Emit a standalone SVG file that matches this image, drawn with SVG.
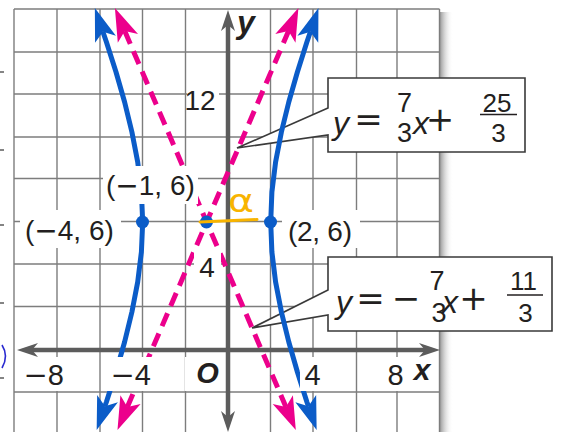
<svg xmlns="http://www.w3.org/2000/svg" width="563" height="432" viewBox="0 0 563 432">
<style>
.grid line{stroke:#7d7d7d;stroke-width:1.4}
.blue{stroke:#0b5cc8;stroke-width:5;fill:none;stroke-linejoin:round}
.pink{stroke:#ec008c;stroke-width:5;fill:none;stroke-dasharray:14 8}
.axis{stroke:#5c5c5c;stroke-width:4.5;fill:none}
.t{font-family:"Liberation Sans",Arial,sans-serif;fill:#231f20}
.mn{font-family:"DejaVu Sans",sans-serif}
.m{font-family:"DejaVu Sans",sans-serif;fill:#231f20;font-size:34px;text-anchor:middle}
.bg{fill:#fff}
.box{fill:#fff;stroke:#3a3a3a;stroke-width:1.6;stroke-linejoin:miter}
</style>
<defs>
<marker id="hb" viewBox="-35 -12 36 24" markerWidth="36" markerHeight="24" refX="-25" refY="0" orient="auto-start-reverse" markerUnits="userSpaceOnUse"><path d="M0,0 L-33,-11 L-25,0 L-33,11 Z" fill="#0b5cc8"/></marker>
<marker id="hp" viewBox="-35 -12 36 24" markerWidth="36" markerHeight="24" refX="-25" refY="0" orient="auto-start-reverse" markerUnits="userSpaceOnUse"><path d="M0,0 L-33,-11 L-25,0 L-33,11 Z" fill="#ec008c"/></marker>
<marker id="ha" viewBox="-23 -9 24 18" markerWidth="24" markerHeight="18" refX="-15" refY="0" orient="auto-start-reverse" markerUnits="userSpaceOnUse"><path d="M0,0 L-21,-7 L-15,0 L-21,7 Z" fill="#5c5c5c"/></marker>
<linearGradient id="sh" x1="0" y1="0" x2="1" y2="0"><stop offset="0" stop-color="#9a9a9a"/><stop offset="1" stop-color="#fff" stop-opacity="0"/></linearGradient>
</defs>
<rect width="563" height="432" fill="#fff"/>
<g id="edge-marks" stroke="#333" stroke-width="1.2">
<line x1="0" y1="72" x2="4" y2="72"/><line x1="0" y1="150" x2="4" y2="150"/><line x1="0" y1="225" x2="4" y2="225"/><line x1="0" y1="303" x2="4" y2="303"/><line x1="0" y1="378" x2="4" y2="378"/>
</g>
<path d="M2,345 Q9,356 2,368" stroke="#2a2ad0" stroke-width="1.6" fill="none"/>
<rect x="440" y="12" width="13" height="420" fill="url(#sh)"/>
<g id="grid" class="grid">
<line x1="14" y1="9" x2="14" y2="432"/><line x1="57" y1="9" x2="57" y2="432"/><line x1="100" y1="9" x2="100" y2="432"/><line x1="142.5" y1="9" x2="142.5" y2="432"/><line x1="185.5" y1="9" x2="185.5" y2="432"/><line x1="270.5" y1="9" x2="270.5" y2="432"/><line x1="313" y1="9" x2="313" y2="432"/><line x1="356.5" y1="9" x2="356.5" y2="432"/><line x1="397" y1="9" x2="397" y2="432"/><line x1="439.5" y1="9" x2="439.5" y2="432"/>
<line x1="14" y1="9" x2="439.5" y2="9"/><line x1="14" y1="52" x2="439.5" y2="52"/><line x1="14" y1="94" x2="439.5" y2="94"/><line x1="14" y1="137" x2="439.5" y2="137"/><line x1="14" y1="178.5" x2="439.5" y2="178.5"/><line x1="14" y1="221.5" x2="439.5" y2="221.5"/><line x1="14" y1="264" x2="439.5" y2="264"/><line x1="14" y1="306.5" x2="439.5" y2="306.5"/><line x1="14" y1="392" x2="439.5" y2="392"/>
</g>
<g id="callout1"><path class="box" d="M328,108 L237,148 L328,135 L328,152 L525,152 L525,78 L328,78 Z"/>
<text class="t" x="333" y="134" font-size="32" font-style="italic">y</text>
<text class="m" x="368.5" y="131">=</text>
<text class="t" x="404.5" y="112" font-size="27" text-anchor="middle">7</text>
<text class="t" x="404.5" y="142" font-size="27" text-anchor="middle">3</text>
<text class="t" x="421" y="134" font-size="32" font-style="italic" text-anchor="middle">x</text>
<text class="m" x="440" y="131">+</text>
<text class="t" x="497" y="112" font-size="26" text-anchor="middle">25</text>
<line x1="480" y1="114.5" x2="517" y2="114.5" stroke="#231f20" stroke-width="1.5"/>
<text class="t" x="498.5" y="142" font-size="26" text-anchor="middle">3</text>
</g>
<g id="callout2"><path class="box" d="M328,290 L252,328 L328,315 L328,331 L552,331 L552,257 L328,257 Z"/>
<text class="t" x="336" y="313" font-size="32" font-style="italic">y</text>
<text class="m" x="370.5" y="310">=</text>
<text class="m" x="406" y="310">−</text>
<text class="t" x="437" y="290" font-size="27" text-anchor="middle">7</text>
<text class="t" x="439" y="322" font-size="27" text-anchor="middle">3</text>
<text class="t" x="450" y="313" font-size="32" font-style="italic" text-anchor="middle">x</text>
<text class="m" x="473.5" y="310">+</text>
<text class="t" x="523.5" y="290" font-size="26" text-anchor="middle">11</text>
<line x1="507" y1="295" x2="543" y2="295" stroke="#231f20" stroke-width="1.5"/>
<text class="t" x="525.5" y="322" font-size="26" text-anchor="middle">3</text>
</g>
<g id="axes">
<path class="axis" d="M32,350 L425,350" marker-start="url(#ha)" marker-end="url(#ha)"/>
<path class="axis" d="M228,25 L228,417" stroke-width="5" marker-start="url(#ha)" marker-end="url(#ha)"/>
</g>
<g id="connectors">
<path class="blue" d="M310.4,31.7 L306.9,42 L297.4,72 L288.8,102 L281.4,132 L275.6,162 L271.9,192 L270.7,222 L271.9,252 L275.6,282 L281.4,312 L288.8,342 L297.4,372 L306.9,402 L308.4,406.3" marker-start="url(#hb)" marker-end="url(#hb)"/>
<path class="blue" d="M102.9,31.7 L106.4,42 L116,72 L124.6,102 L131.9,132 L137.7,162 L141.4,192 L142.7,222 L141.4,252 L137.7,282 L131.9,312 L124.6,342 L116,372 L106.4,402 L104.9,406.3" marker-start="url(#hb)" marker-end="url(#hb)"/>
<path class="pink" d="M127.35,407 L288.55,31" marker-start="url(#hp)" marker-end="url(#hp)"/>
<path class="pink" d="M124.75,31 L285.95,407" marker-start="url(#hp)" marker-end="url(#hp)"/>
</g>
<g id="labels-bg">
<rect class="bg" x="187" y="86" width="32" height="28"/>
<rect class="bg" x="194" y="252" width="27" height="29"/>
<rect class="bg" x="18" y="357" width="50" height="34"/>
<rect class="bg" x="105" y="357" width="50" height="34"/>
<rect class="bg" x="185" y="357" width="38" height="34"/>
<rect class="bg" x="300" y="357" width="25" height="34"/>
<rect class="bg" x="384" y="357" width="23" height="34"/>
<rect class="bg" x="103" y="166" width="95" height="38"/>
<rect class="bg" x="20" y="210" width="101" height="38"/>
<rect class="bg" x="282" y="210" width="78" height="38"/>
</g>
<g id="vertices">
<circle cx="142.5" cy="222" r="6.5" fill="#0b5cc8"/>
<circle cx="206.5" cy="222" r="6.5" fill="#0b5cc8"/>
<circle cx="270.5" cy="222" r="6.5" fill="#0b5cc8"/>
</g>
<g id="a-seg">
<path d="M200,222 L257,219.5" stroke="#f8b400" stroke-width="3" stroke-linecap="round" fill="none"/>
<text x="241" y="212" font-family="DejaVu Sans, sans-serif" font-size="32" fill="#f8b400" text-anchor="middle" textLength="26" lengthAdjust="spacingAndGlyphs">α</text>
</g>
<g id="axis-labels">
<text class="t" x="246" y="33" font-size="32" font-weight="bold" font-style="italic" text-anchor="middle">y</text>
<text class="t" x="422" y="380" font-size="30" font-weight="bold" font-style="italic" text-anchor="middle">x</text>
<text class="t" x="207.5" y="383" font-size="29" font-weight="bold" font-style="italic" text-anchor="middle">O</text>
<text class="t" x="200" y="110" font-size="28" text-anchor="middle">12</text>
<text class="t" x="207" y="277" font-size="28" text-anchor="middle">4</text>
<text class="t" x="64" y="385" font-size="29" text-anchor="end"><tspan class="mn">−</tspan>8</text>
<text class="t" x="151" y="385" font-size="29" text-anchor="end"><tspan class="mn">−</tspan>4</text>
<text class="t" x="312.5" y="385" font-size="29" text-anchor="middle">4</text>
<text class="t" x="395.5" y="385" font-size="29" text-anchor="middle">8</text>
</g>
<g id="point-labels">
<text class="t" x="106" y="195" font-size="28">(<tspan class="mn">−</tspan>1, 6)</text>
<text class="t" x="25" y="240" font-size="28">(<tspan class="mn">−</tspan>4, 6)</text>
<text class="t" x="288" y="241" font-size="28" textLength="64" lengthAdjust="spacing">(2, 6)</text>
</g>
</svg>
